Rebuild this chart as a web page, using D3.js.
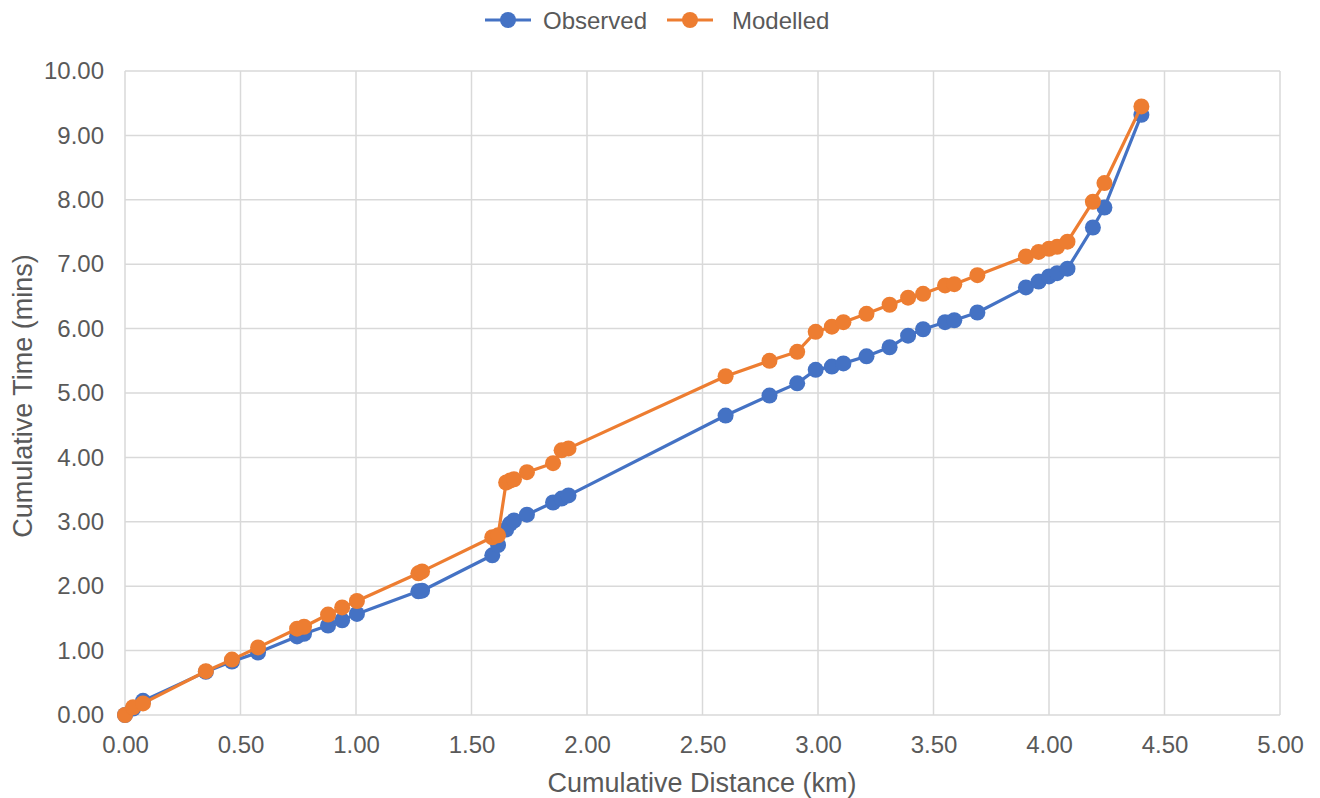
<!DOCTYPE html>
<html><head><meta charset="utf-8">
<script src="https://cdn.jsdelivr.net/npm/d3@7"></script>
<style>body{margin:0;background:#fff;} svg{display:block;font-family:"Liberation Sans",Arial,sans-serif;}</style>
</head><body><svg id="c" width="1320" height="798"></svg>
<script>
const distance = [0,0.035,0.078,0.35,0.463,0.576,0.745,0.775,0.879,0.94,1.004,1.27,1.286,1.59,1.615,1.65,1.667,1.684,1.74,1.853,1.89,1.92,2.60,2.79,2.91,2.99,3.06,3.11,3.21,3.31,3.39,3.455,3.55,3.59,3.69,3.90,3.955,4.00,4.035,4.08,4.19,4.24,4.40];
const observed = [0,0.10,0.22,0.67,0.83,0.97,1.22,1.26,1.39,1.47,1.57,1.92,1.93,2.48,2.64,2.88,2.97,3.02,3.11,3.30,3.36,3.41,4.65,4.96,5.15,5.36,5.41,5.46,5.57,5.71,5.89,5.99,6.10,6.13,6.25,6.64,6.73,6.81,6.86,6.93,7.57,7.88,9.32];
const modelled = [0,0.12,0.18,0.68,0.86,1.05,1.34,1.37,1.56,1.67,1.77,2.20,2.23,2.76,2.79,3.61,3.64,3.66,3.77,3.91,4.11,4.14,5.26,5.50,5.64,5.95,6.03,6.10,6.23,6.37,6.48,6.54,6.67,6.69,6.83,7.12,7.19,7.24,7.27,7.35,7.97,8.26,9.45];
const seriesNames = ["Observed","Modelled"];
const colors = ["#4472C4","#ED7D31"];
const xTicks = [0,0.5,1,1.5,2,2.5,3,3.5,4,4.5,5];
const yTicks = [0,1,2,3,4,5,6,7,8,9,10];

const svg = d3.select("#c");
const L=125,R=1280,T=71,B=715;
const x = d3.scaleLinear().domain([0,5]).range([L,R]);
const y = d3.scaleLinear().domain([0,10]).range([B,T]);
const grid="#d9d9d9", txt="#595959";
const FF="Liberation Sans, Arial, sans-serif";

svg.append("g").selectAll("line").data(yTicks).join("line")
  .attr("x1",L).attr("x2",R).attr("y1",d=>y(d)).attr("y2",d=>y(d))
  .attr("stroke",grid).attr("stroke-width",1.5);
svg.append("g").selectAll("line").data(xTicks).join("line")
  .attr("y1",T).attr("y2",B).attr("x1",d=>x(d)).attr("x2",d=>x(d))
  .attr("stroke",grid).attr("stroke-width",1.5);

const xAxis = d3.axisBottom(x).tickValues(xTicks).tickFormat(d3.format(".2f")).tickSize(0).tickPadding(0);
const gx = svg.append("g").attr("transform",`translate(0,${B})`).call(xAxis);
gx.select(".domain").remove();
gx.selectAll("text").attr("dy",null).attr("y",38).attr("fill",txt).attr("font-size",24).attr("font-family",FF);
const yAxis = d3.axisLeft(y).tickValues(yTicks).tickFormat(d3.format(".2f")).tickSize(0).tickPadding(21);
const gy = svg.append("g").attr("transform",`translate(${L},0)`).call(yAxis);
gy.select(".domain").remove();
gy.selectAll("text").attr("fill",txt).attr("font-size",24).attr("font-family",FF);

svg.append("text").attr("x",702).attr("y",792).attr("text-anchor","middle")
  .attr("fill",txt).attr("font-size",27).text("Cumulative Distance (km)");
svg.append("text").attr("transform",`translate(32,396) rotate(-90)`).attr("text-anchor","middle")
  .attr("fill",txt).attr("font-size",27).text("Cumulative Time (mins)");

const data = [observed, modelled];
const line = d3.line().x((d,i)=>x(distance[i])).y(d=>y(d));
data.forEach((vals,k)=>{
  const g = svg.append("g");
  g.append("path").datum(vals).attr("d",line).attr("fill","none")
    .attr("stroke",colors[k]).attr("stroke-width",3.2).attr("stroke-linejoin","round");
  g.selectAll("circle").data(vals).join("circle")
    .attr("cx",(d,i)=>x(distance[i])).attr("cy",d=>y(d)).attr("r",8).attr("fill",colors[k]);
});

const legX=[485,667];
seriesNames.forEach((n,k)=>{
  const g=svg.append("g").attr("transform",`translate(${legX[k]},20)`);
  g.append("line").attr("x1",0).attr("x2",46).attr("stroke",colors[k]).attr("stroke-width",3.2);
  g.append("circle").attr("cx",23).attr("r",8).attr("fill",colors[k]);
  g.append("text").attr("x",k===0?58:65).attr("y",8.5).attr("fill",txt).attr("font-size",24).attr("font-family",FF).text(n);
});
</script></body></html>
